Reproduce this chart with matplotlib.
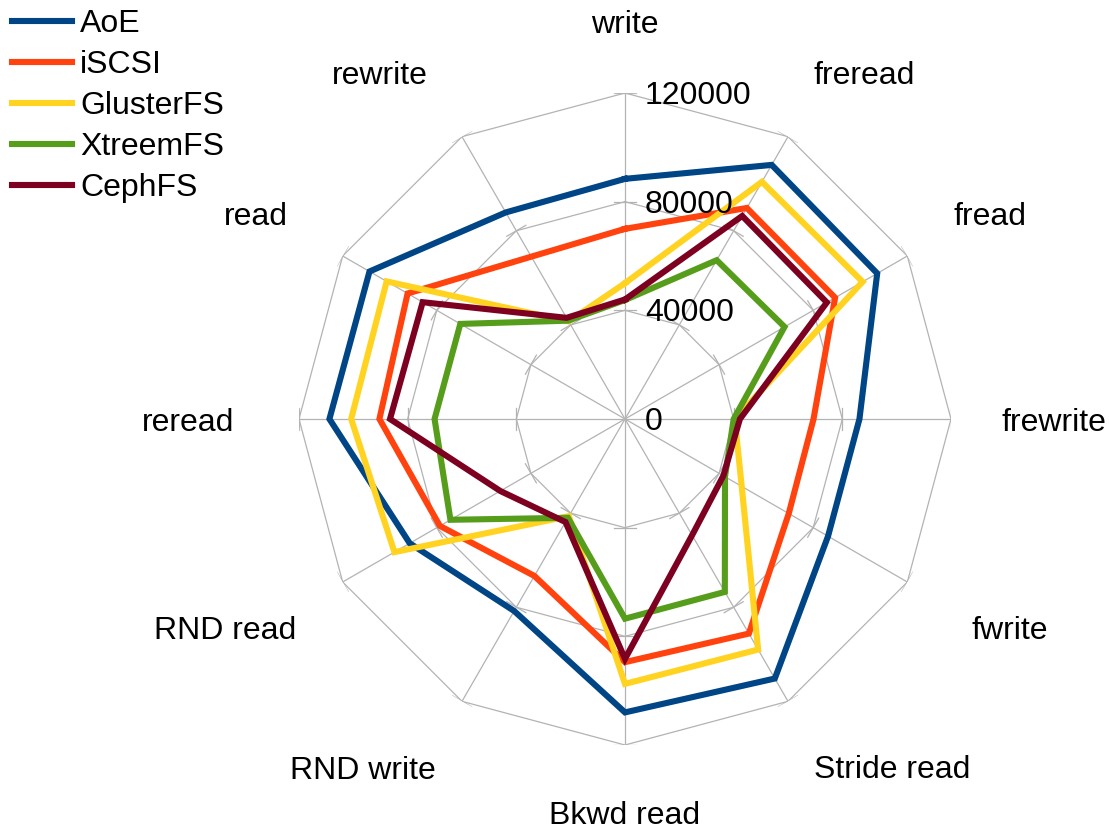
import numpy as np
import matplotlib
matplotlib.use("Agg")
import matplotlib.pyplot as plt
from matplotlib.transforms import offset_copy

plt.rcParams['font.family'] = ['Liberation Sans', 'DejaVu Sans']

categories = ['write', 'freread', 'fread', 'frewrite', 'fwrite', 'Stride read',
              'Bkwd read', 'RND write', 'RND read', 'reread', 'read', 'rewrite']
series_names = ['AoE', 'iSCSI', 'GlusterFS', 'XtreemFS', 'CephFS']
aoe = [88400, 108000, 107200, 86300, 86300, 110300, 108000, 81600, 91500, 108800, 108600, 87800]
iscsi = [70000, 89700, 89300, 69400, 69600, 91200, 89500, 66700, 78700, 90400, 92400, 69000]
gluster = [50000, 100800, 101000, 40400, 49600, 98000, 97500, 41300, 98000, 100800, 101300, 41500]
xtreem = [43800, 67500, 67800, 40000, 42500, 73500, 73500, 42000, 74200, 70100, 70000, 41800]
ceph = [44000, 86300, 85800, 42300, 41800, 49400, 88300, 43800, 53000, 86500, 86000, 43000]
r_ticks = [0, 40000, 80000, 120000]
r_tick_labels = ['0', '40000', '80000', '120000']

# layout: category label centres (angle in degrees clockwise from top, distance in px)
label_angle_deg = [0, 34.7, 60.6, 90, 118.5, 142.4, 180, 217.0, 242.4, 270, 299.1, 324.7]
label_dist_px = [397, 421, 419, 429, 438, 438, 394, 436, 451, 437, 423, 424]

colors = ['#004586', '#ff420e', '#ffd320', '#579d1c', '#7e0021']
grid_color = '#b3b3b3'
FS = 23
W, H = 1109, 830
cx, cy, rad = 625, 419, 326
rmax = 120000

fig = plt.figure(figsize=(W / 100, H / 100), dpi=100)
ax = fig.add_axes([(cx - rad) / W, (H - cy - rad) / H, 2 * rad / W, 2 * rad / H],
                  projection='polar')
ax.set_theta_offset(np.pi / 2)
ax.set_theta_direction(-1)
ax.set_ylim(0, rmax)
ax.grid(False)
ax.spines['polar'].set_visible(False)
ax.set_xticks([])
ax.set_yticks([])
ax.patch.set_visible(False)

n = len(categories)
angles = np.arange(n) * 2 * np.pi / n
closed = np.concatenate([angles, angles[:1]])

# grid rings, spokes, tick marks
for R in r_ticks[1:]:
    ax.plot(closed, [R] * (n + 1), color=grid_color, lw=0.9, zorder=1)
for a in angles:
    ax.plot([a, a], [0, rmax], color=grid_color, lw=0.9, zorder=1)
h = 11 / rad * rmax
for R in r_ticks[1:]:
    d = np.arctan(h / R)
    rr = np.hypot(R, h)
    for a in angles:
        ax.plot([a - d, a + d], [rr, rr], color=grid_color, lw=0.9, zorder=1)

# data
all_series = [aoe, iscsi, gluster, xtreem, ceph]
for name, vals, col in zip(series_names, all_series, colors):
    v = list(vals) + [vals[0]]
    ax.plot(closed, v, color=col, lw=4.4, label=name, solid_joinstyle='miter', zorder=3)

# radial tick labels
tr = offset_copy(ax.transData, fig=fig, x=20, y=-3, units='dots')
for R, lab in zip(r_ticks, r_tick_labels):
    ax.text(0, R, lab, transform=tr, ha='left', va='center', fontsize=FS, zorder=4)

# category labels
for ang, dist, lab in zip(label_angle_deg, label_dist_px, categories):
    ax.text(np.deg2rad(ang), dist / rad * rmax, lab, ha='center', va='center_baseline',
            fontsize=FS, clip_on=False)

leg = fig.legend(loc='upper left', bbox_to_anchor=(12 / W, 1 - 9 / H), frameon=False,
                 fontsize=FS, handlelength=1.875, handletextpad=0.25, labelspacing=0.345,
                 borderpad=0, borderaxespad=0)

fig.savefig('out.png', dpi=100)
